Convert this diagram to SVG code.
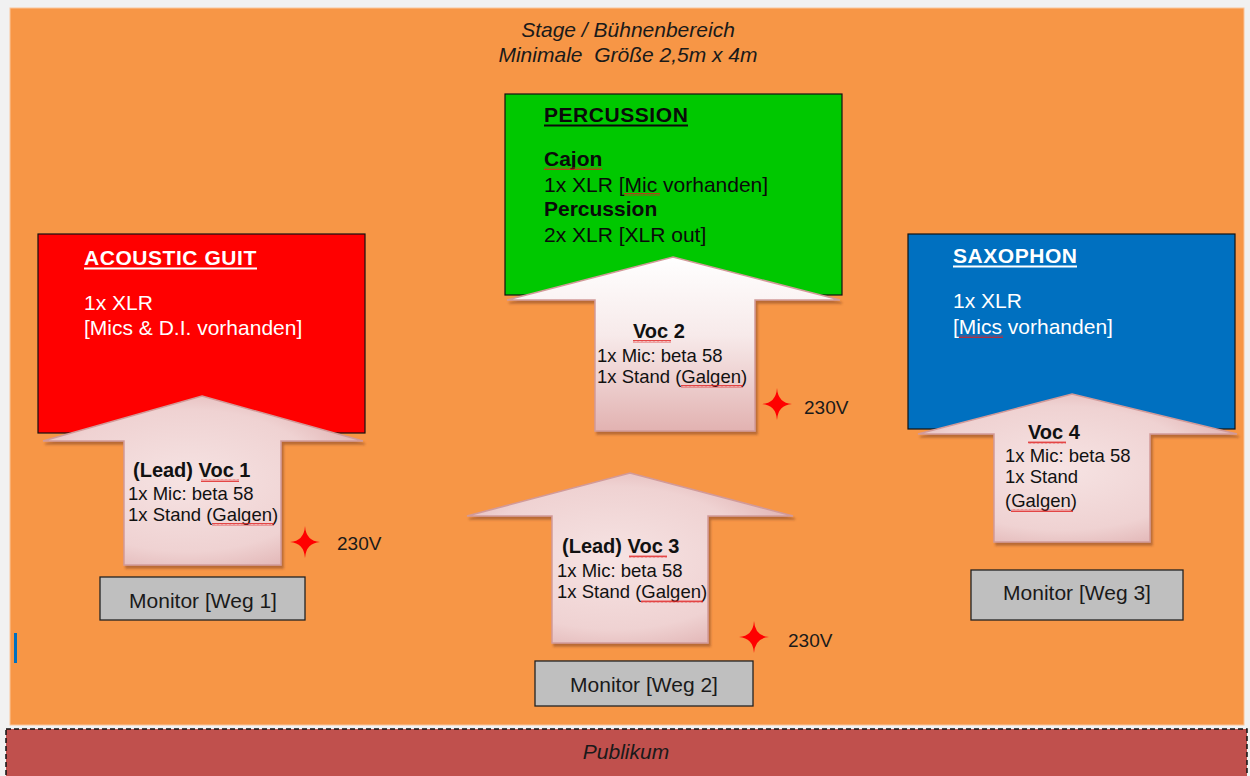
<svg xmlns="http://www.w3.org/2000/svg" width="1250" height="776" viewBox="0 0 1250 776">
<defs>
<style>
text{font-family:"Liberation Sans",Arial,sans-serif;}
.title{font-size:21px;font-style:italic;fill:#1a1a1a;text-anchor:middle;}
.box{stroke:#111;stroke-width:1.2;}
.hd{font-size:21px;font-weight:bold;}
.ul{letter-spacing:0.55px;}
.bt{font-size:21px;}
.wt{fill:#ffffff;}
.bk{fill:#0a0a0a;}
.ah{font-size:20px;font-weight:bold;fill:#111;}
.at{font-size:18.5px;fill:#111;}
.arrow{stroke:#d29a99;stroke-width:1.5;filter:url(#sh);}
.mon{fill:#bfbfbf;stroke:#222;stroke-width:1.3;}
.mt{font-size:21px;fill:#1a1a1a;text-anchor:middle;}
.volt{font-size:19px;fill:#1a1a1a;}
.star{fill:#ff0000;}
.sq{fill:url(#zig);}
</style>
<radialGradient id="ag" cx="0.45" cy="0.5" r="0.7">
<stop offset="0" stop-color="#f6e3e3"/>
<stop offset="0.6" stop-color="#efd2d2"/>
<stop offset="1" stop-color="#d9a3a3"/>
</radialGradient>
<linearGradient id="ag2" x1="0" y1="0" x2="0" y2="1">
<stop offset="0" stop-color="#ffffff"/>
<stop offset="0.45" stop-color="#f7eaea"/>
<stop offset="1" stop-color="#e2b2b1"/>
</linearGradient>
<filter id="sh" x="-10%" y="-10%" width="125%" height="125%">
<feDropShadow dx="2" dy="3" stdDeviation="1.2" flood-color="#7a3a1c" flood-opacity="0.5"/>
</filter>
<pattern id="zig" width="4" height="3" patternUnits="userSpaceOnUse">
<path d="M0,2.5 L1,0.5 L2,2.5 L3,0.5 L4,2.5" fill="none" stroke="#e02020" stroke-width="0.8"/>
</pattern>
<path id="st" d="M0,-16 Q1,-1 15,0 Q1,1 0,16 Q-1,1 -15,0 Q-1,-1 0,-16 Z"/>
</defs>

<rect x="0" y="0" width="1250" height="776" fill="#f1f1f1"/>

<g id="stage">
<rect x="10" y="8" width="1234" height="717" fill="#f79646" stroke="#fbc59a" stroke-width="1"/>
<text class="title" x="628" y="37">Stage / Bühnenbereich</text>
<text class="title" x="628" y="62" xml:space="preserve">Minimale  Größe 2,5m x 4m</text>
<rect x="14" y="633" width="3" height="30" fill="#0070c0"/>
</g>

<g id="publikum">
<rect x="6" y="729" width="1241" height="50" fill="#c0504d" stroke="#111" stroke-width="1.5" stroke-dasharray="5,3"/>
<text class="title" x="626" y="759">Publikum</text>
</g>

<g id="acoustic-guit">
<rect class="box" x="38" y="234" width="327" height="199" fill="#ff0000"/>
<text class="hd ul wt" x="84" y="265">ACOUSTIC GUIT</text>
<rect x="84" y="267.5" width="173" height="2" fill="#fff"/>
<text class="bt wt" x="84" y="310">1x XLR</text>
<text class="bt wt" x="84" y="335">[Mics &amp; D.I. vorhanden]</text>
</g>

<g id="percussion">
<rect class="box" x="505" y="94" width="337" height="201" fill="#00c800"/>
<text class="hd ul bk" x="544" y="122">PERCUSSION</text>
<rect x="544" y="124.5" width="144" height="2" fill="#0a0a0a"/>
<text class="hd bk" x="544" y="166">Cajon</text>
<rect class="sq" x="544" y="167" width="58" height="3"/>
<text class="bt bk" x="544" y="192">1x XLR [Mic vorhanden]</text>
<rect class="sq" x="624" y="193" width="36" height="3"/>
<text class="hd bk" x="544" y="216">Percussion</text>
<text class="bt bk" x="544" y="242">2x XLR [XLR out]</text>
</g>

<g id="saxophon">
<rect class="box" x="908" y="234" width="327" height="195" fill="#0070c0"/>
<text class="hd ul wt" x="953" y="263">SAXOPHON</text>
<rect x="953" y="265.5" width="124" height="2" fill="#fff"/>
<text class="bt wt" x="953" y="308">1x XLR</text>
<text class="bt wt" x="953" y="334">[Mics vorhanden]</text>
<rect class="sq" x="959" y="335" width="44" height="3"/>
</g>

<g id="voc1">
<polygon class="arrow" fill="url(#ag)" points="202,396 363,441 281,441 281,565 124,565 124,441 43,441"/>
<text class="ah" x="133" y="477">(Lead) Voc 1</text>
<rect class="sq" x="201" y="479" width="38" height="3"/>
<text class="at" x="128" y="500">1x Mic: beta 58</text>
<text class="at" x="128" y="521">1x Stand (Galgen)</text>
<rect class="sq" x="212" y="523" width="62" height="3"/>
</g>

<g id="voc2">
<polygon class="arrow" fill="url(#ag2)" points="673,257 840,300 755,300 755,431 595,431 595,300 507,300"/>
<text class="ah" x="633" y="338">Voc 2</text>
<rect class="sq" x="633" y="340" width="38" height="3"/>
<text class="at" x="597" y="362">1x Mic: beta 58</text>
<text class="at" x="597" y="383">1x Stand (Galgen)</text>
<rect class="sq" x="681" y="385" width="62" height="3"/>
</g>

<g id="voc3">
<polygon class="arrow" fill="url(#ag)" points="630,473 793,516 708,516 708,643 552,643 552,516 467,516"/>
<text class="ah" x="562" y="553">(Lead) Voc 3</text>
<rect class="sq" x="629" y="555" width="38" height="3"/>
<text class="at" x="557" y="577">1x Mic: beta 58</text>
<text class="at" x="557" y="598">1x Stand (Galgen)</text>
<rect class="sq" x="641" y="600" width="62" height="3"/>
</g>

<g id="voc4">
<polygon class="arrow" fill="url(#ag)" points="1072,394 1237,434 1150,434 1150,542 994,542 994,434 918,434"/>
<text class="ah" x="1028" y="439">Voc 4</text>
<rect class="sq" x="1028" y="441" width="38" height="3"/>
<text class="at" x="1005" y="462">1x Mic: beta 58</text>
<text class="at" x="1005" y="483">1x Stand</text>
<text class="at" x="1005" y="507">(Galgen)</text>
<rect class="sq" x="1011" y="509" width="62" height="3"/>
</g>

<g id="monitor1">
<rect class="mon" x="100" y="577" width="205" height="43"/>
<text class="mt" x="203" y="608">Monitor [Weg 1]</text>
</g>
<g id="monitor2">
<rect class="mon" x="535" y="661" width="218" height="45"/>
<text class="mt" x="644" y="692">Monitor [Weg 2]</text>
</g>
<g id="monitor3">
<rect class="mon" x="971" y="570" width="212" height="50"/>
<text class="mt" x="1077" y="600">Monitor [Weg 3]</text>
</g>

<g id="power1">
<use href="#st" class="star" x="305" y="542"/>
<text class="volt" x="337" y="550">230V</text>
</g>
<g id="power2">
<use href="#st" class="star" x="777" y="404"/>
<text class="volt" x="804" y="414">230V</text>
</g>
<g id="power3">
<use href="#st" class="star" x="754" y="637"/>
<text class="volt" x="788" y="647">230V</text>
</g>

<g id="connectors"/>
</svg>
